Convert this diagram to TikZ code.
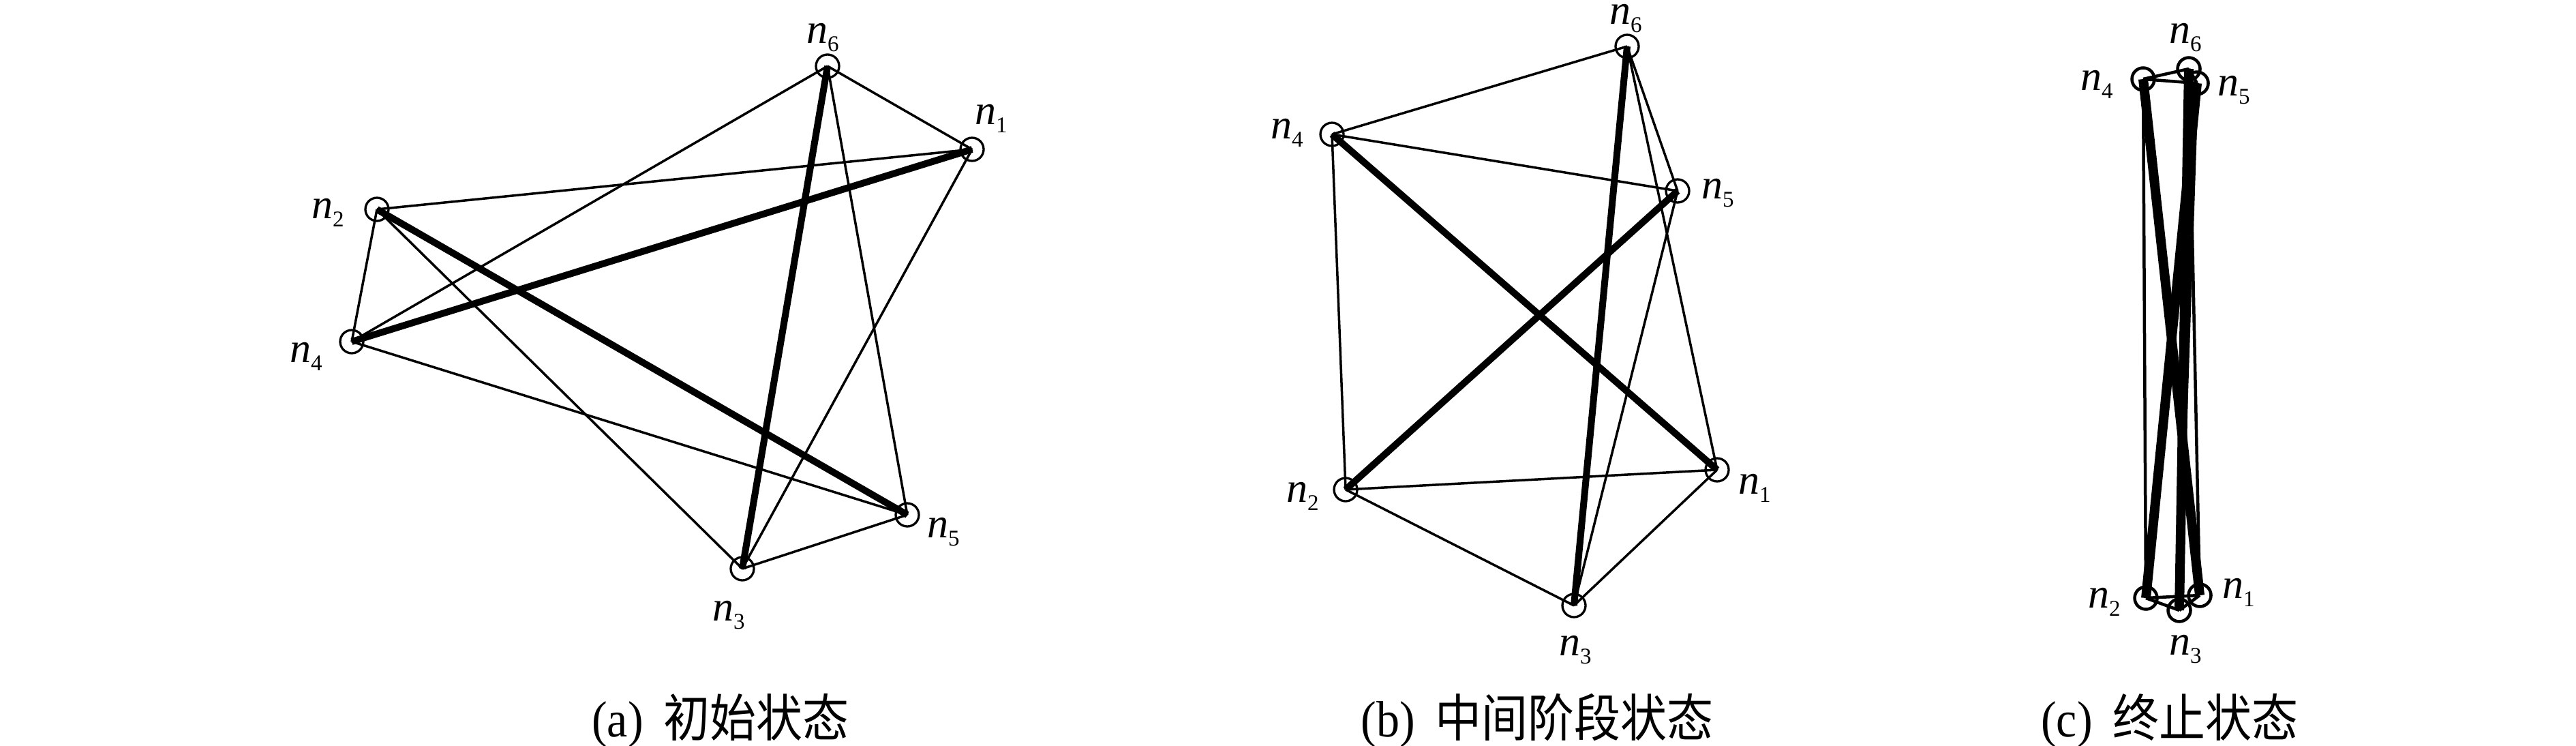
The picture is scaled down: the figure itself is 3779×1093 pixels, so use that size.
\documentclass[tikz,border=0pt]{standalone}
\usepackage{fontspec}
\setmainfont{Liberation Serif}
\newfontfamily\cjk{Noto Sans CJK SC}
\newcommand{\nlab}[1]{{\fontsize{62}{62}\selectfont\itshape n}\raisebox{-12pt}{\fontsize{33}{33}\selectfont #1}}
\newcommand{\captxt}[2]{\scalebox{1}[1.1]{\fontsize{68}{68}\selectfont #1\hspace{30pt}{\cjk #2}}}
\tikzset{
  vtx/.style={circle, draw, line width=3.3pt, minimum size=34pt, inner sep=0pt},
  vtxc/.style={circle, draw, line width=4.5pt, minimum size=33pt, inner sep=0pt},
  thinedge/.style={line width=3.5pt},
  thickedge/.style={line width=10pt},
  thinedgec/.style={line width=4.5pt},
  thickedgec/.style={line width=14pt},
  lab/.style={anchor=base west, inner sep=0pt},
  captext/.style={anchor=base, inner sep=0pt}
}
\begin{document}
\begin{tikzpicture}[x=1pt,y=-1pt]
\useasboundingbox[fill=white] (0,0) rectangle (3779,1093);
% ---------- (a) ----------
\node[vtx] (a1) at (1426,219) {};
\node[vtx] (a2) at (553,307) {};
\node[vtx] (a3) at (1089,834) {};
\node[vtx] (a4) at (516,501) {};
\node[vtx] (a5) at (1331,755) {};
\node[vtx] (a6) at (1214,97) {};
\foreach \u/\v in {a6/a1,a6/a4,a6/a5,a1/a2,a1/a3,a2/a4,a2/a3,a4/a5,a3/a5}
  \draw[thinedge] (\u.center) -- (\v.center);
\foreach \u/\v in {a6/a3,a2/a5,a4/a1}
  \draw[thickedge] (\u.center) -- (\v.center);
\node[lab] (la1) at (1430,182) {\nlab{1}};
\node[lab] (la2) at (457,320) {\nlab{2}};
\node[lab] (la3) at (1045,910) {\nlab{3}};
\node[lab] (la4) at (425,531) {\nlab{4}};
\node[lab] (la5) at (1360,788) {\nlab{5}};
\node[lab] (la6) at (1183,63) {\nlab{6}};
% ---------- (b) ----------
\node[vtx] (b1) at (2519,689) {};
\node[vtx] (b2) at (1974,718) {};
\node[vtx] (b3) at (2309,888) {};
\node[vtx] (b4) at (1954,197) {};
\node[vtx] (b5) at (2461,280) {};
\node[vtx] (b6) at (2387,68) {};
\foreach \u/\v in {b6/b4,b6/b5,b6/b1,b4/b5,b4/b2,b2/b1,b2/b3,b3/b1,b5/b3}
  \draw[thinedge] (\u.center) -- (\v.center);
\foreach \u/\v in {b4/b1,b2/b5,b6/b3}
  \draw[thickedge] (\u.center) -- (\v.center);
\node[lab] (lb1) at (2550,724) {\nlab{1}};
\node[lab] (lb2) at (1887,736) {\nlab{2}};
\node[lab] (lb3) at (2287,961) {\nlab{3}};
\node[lab] (lb4) at (1864,203) {\nlab{4}};
\node[lab] (lb5) at (2496,291) {\nlab{5}};
\node[lab] (lb6) at (2361,35) {\nlab{6}};
% ---------- (c) ----------
\node[vtxc] (c1) at (3227,873) {};
\node[vtxc] (c2) at (3148,877) {};
\node[vtxc] (c3) at (3197,895) {};
\node[vtxc] (c4) at (3144,116) {};
\node[vtxc] (c5) at (3223,122) {};
\node[vtxc] (c6) at (3211,101) {};
\foreach \u/\v in {c4/c6,c4/c5,c4/c2,c6/c5,c6/c1,c5/c3,c2/c3,c2/c1,c3/c1}
  \draw[thinedgec] (\u.center) -- (\v.center);
\foreach \u/\v in {c4/c1,c5/c2,c6/c3}
  \draw[thickedgec] (\u.center) -- (\v.center);
\node[lab] (lc1) at (3260,877) {\nlab{1}};
\node[lab] (lc2) at (3063,891) {\nlab{2}};
\node[lab] (lc3) at (3182,960) {\nlab{3}};
\node[lab] (lc4) at (3052,132) {\nlab{4}};
\node[lab] (lc5) at (3253,140) {\nlab{5}};
\node[lab] (lc6) at (3182,63) {\nlab{6}};
% ---------- captions ----------
\node[captext] (capa) at (1057,1080) {\captxt{(a)}{初始状态}};
\node[captext] (capb) at (2255,1080) {\captxt{(b)}{中间阶段状态}};
\node[captext] (capc) at (3183,1080) {\captxt{(c)}{终止状态}};
\end{tikzpicture}
\end{document}
